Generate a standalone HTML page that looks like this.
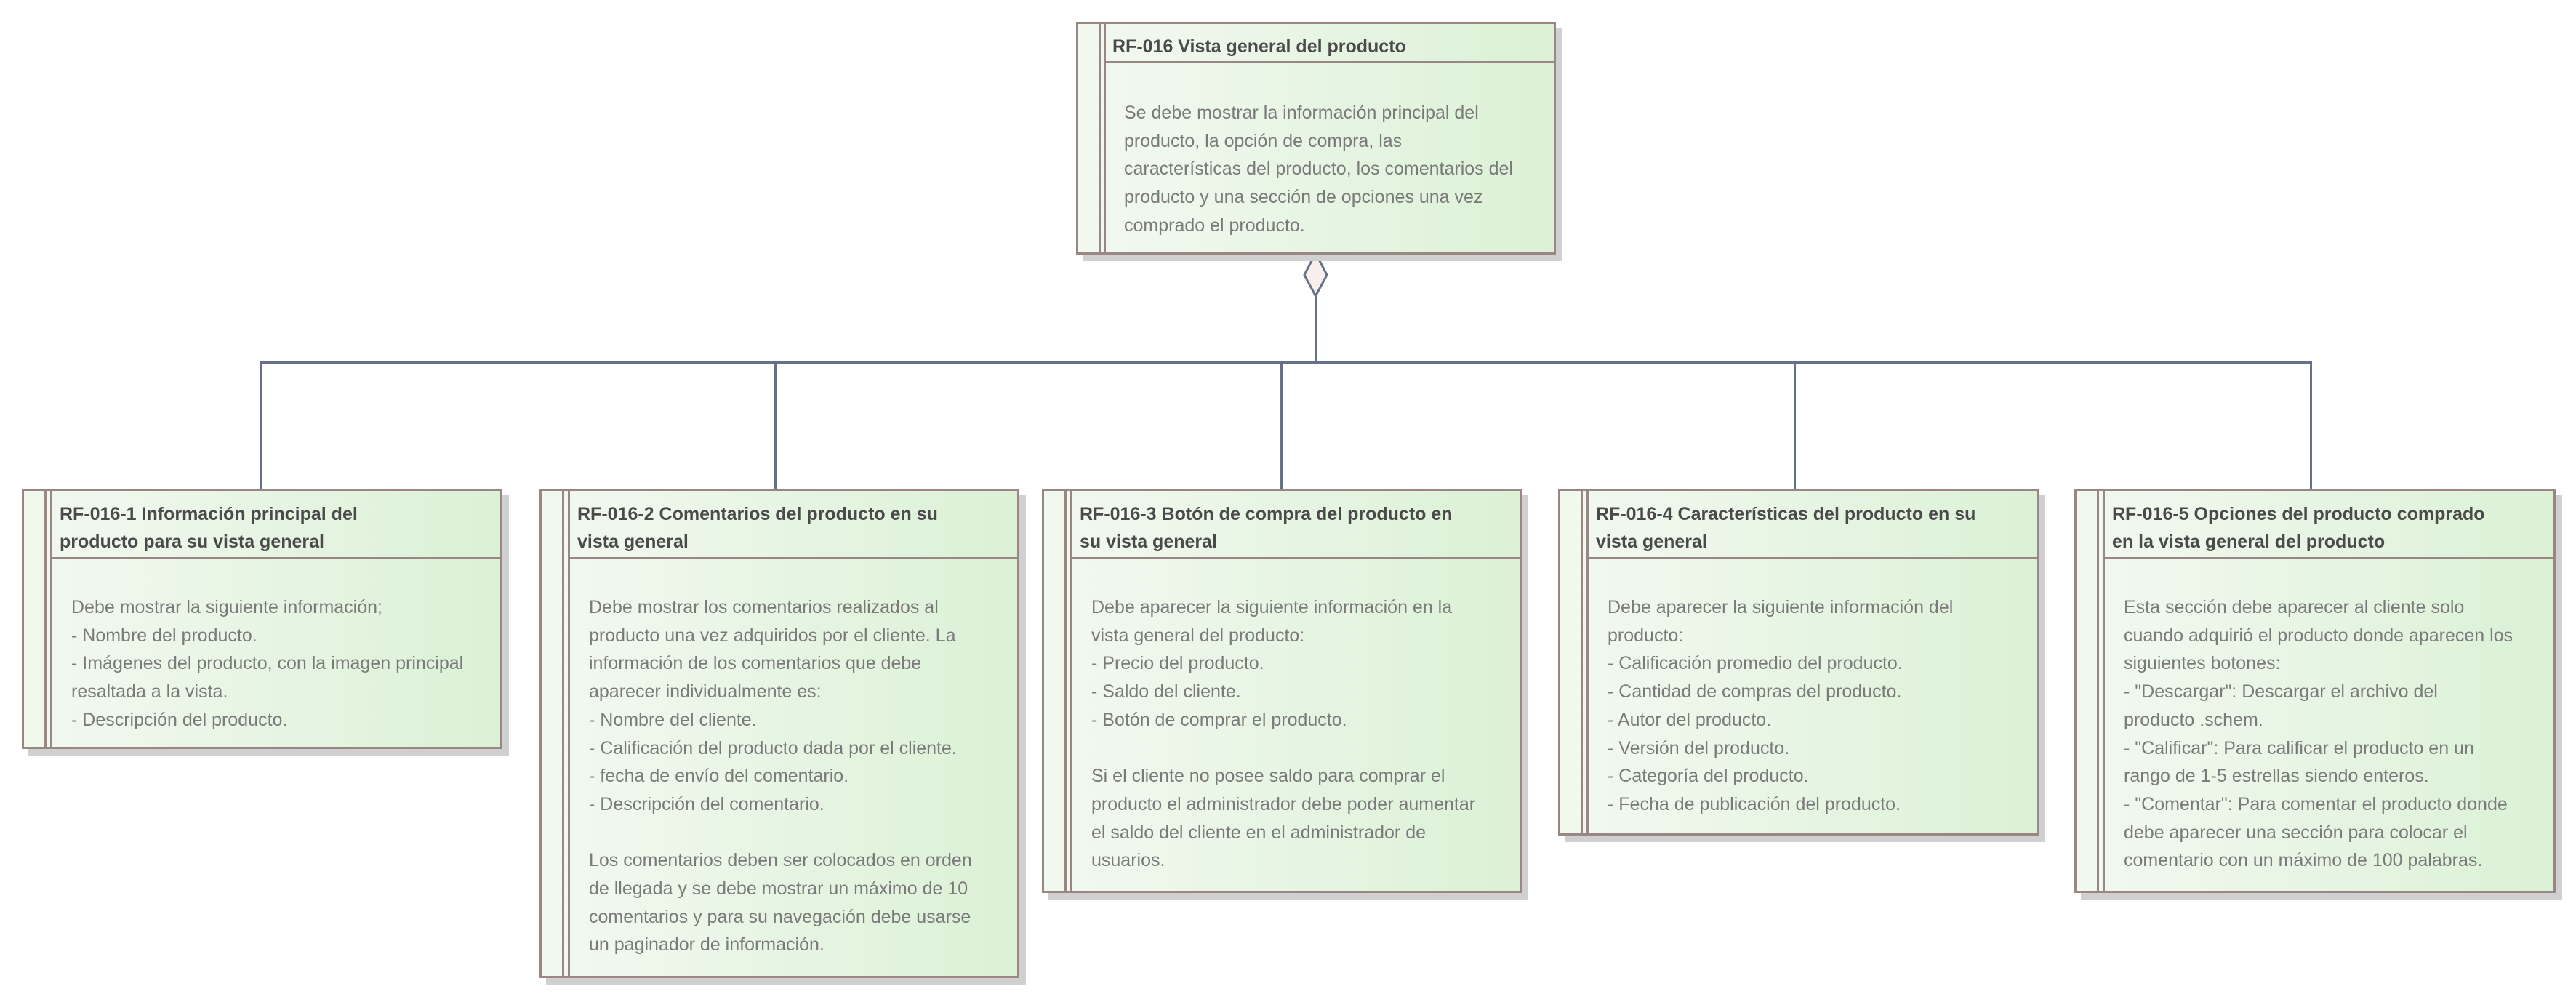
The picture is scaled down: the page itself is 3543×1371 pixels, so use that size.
<!DOCTYPE html>
<html><head><meta charset="utf-8"><style>
body{margin:0;width:3543px;height:1371px;background:#fff;position:relative;overflow:hidden;font-family:"Liberation Sans",sans-serif;}
.box{position:absolute;box-sizing:border-box;border:3px solid #9a8682;background:linear-gradient(to right,#f3f9f1,#dbf1d6);box-shadow:9px 9px 0 #d0d0d0;}
.s1,.s2{position:absolute;top:0;bottom:0;width:3px;background:#9a8682;}
.strip{position:absolute;left:0;top:0;bottom:0;width:30px;background:#f1f8ee;}
.div{position:absolute;right:0;height:3px;background:#9a8682;}
.t{position:absolute;font-weight:bold;font-size:25px;line-height:38px;color:#4a4a4a;white-space:nowrap;}
.b{position:absolute;font-size:25px;line-height:38.7px;color:#7a7a7a;white-space:nowrap;}
.ln{position:absolute;background:#66708a;}
</style></head><body>

<div class="ln" style="left:358px;top:497px;width:2822px;height:3px"></div>
<div class="ln" style="left:1808px;top:405px;width:3px;height:94px"></div>
<div class="ln" style="left:358px;top:497px;width:3px;height:176px"></div>
<div class="ln" style="left:1065px;top:497px;width:3px;height:176px"></div>
<div class="ln" style="left:1761px;top:497px;width:3px;height:176px"></div>
<div class="ln" style="left:2467px;top:497px;width:3px;height:176px"></div>
<div class="ln" style="left:3177px;top:497px;width:3px;height:176px"></div>
<svg style="position:absolute;left:1789px;top:346px" width="42" height="64"><polygon points="20.5,2 36,32 20.5,61 5,32" fill="#f8eeea" stroke="#66708a" stroke-width="3"/></svg>

<div class="box" style="left:1480px;top:30px;width:660px;height:320px">
<div class="strip"></div><div class="s1" style="left:28px"></div><div class="s2" style="left:35px"></div>
<div class="div" style="left:35px;top:51px"></div>
<div class="t" style="left:47px;top:12px">RF-016 Vista general del producto</div>
<div class="b" style="left:63px;top:103px">Se debe mostrar la información principal del<br>producto, la opción de compra, las<br>características del producto, los comentarios del<br>producto y una sección de opciones una vez<br>comprado el producto.</div>
</div>

<div class="box" style="left:30px;top:672px;width:661px;height:358px">
<div class="strip"></div><div class="s1" style="left:28px"></div><div class="s2" style="left:36px"></div>
<div class="div" style="left:36px;top:91px"></div>
<div class="t" style="left:49px;top:13px">RF-016-1 Información principal del<br>producto para su vista general</div>
<div class="b" style="left:65px;top:141px">Debe mostrar la siguiente información;<br>- Nombre del producto.<br>- Imágenes del producto, con la imagen principal<br>resaltada a la vista.<br>- Descripción del producto.</div>
</div>

<div class="box" style="left:742px;top:672px;width:660px;height:673px">
<div class="strip"></div><div class="s1" style="left:28px"></div><div class="s2" style="left:36px"></div>
<div class="div" style="left:36px;top:91px"></div>
<div class="t" style="left:49px;top:13px">RF-016-2 Comentarios del producto en su<br>vista general</div>
<div class="b" style="left:65px;top:141px">Debe mostrar los comentarios realizados al<br>producto una vez adquiridos por el cliente. La<br>información de los comentarios que debe<br>aparecer individualmente es:<br>- Nombre del cliente.<br>- Calificación del producto dada por el cliente.<br>- fecha de envío del comentario.<br>- Descripción del comentario.<br><br>Los comentarios deben ser colocados en orden<br>de llegada y se debe mostrar un máximo de 10<br>comentarios y para su navegación debe usarse<br>un paginador de información.</div>
</div>

<div class="box" style="left:1433px;top:672px;width:660px;height:556px">
<div class="strip"></div><div class="s1" style="left:28px"></div><div class="s2" style="left:36px"></div>
<div class="div" style="left:36px;top:91px"></div>
<div class="t" style="left:49px;top:13px">RF-016-3 Botón de compra del producto en<br>su vista general</div>
<div class="b" style="left:65px;top:141px">Debe aparecer la siguiente información en la<br>vista general del producto:<br>- Precio del producto.<br>- Saldo del cliente.<br>- Botón de comprar el producto.<br><br>Si el cliente no posee saldo para comprar el<br>producto el administrador debe poder aumentar<br>el saldo del cliente en el administrador de<br>usuarios.</div>
</div>

<div class="box" style="left:2143px;top:672px;width:661px;height:477px">
<div class="strip"></div><div class="s1" style="left:28px"></div><div class="s2" style="left:36px"></div>
<div class="div" style="left:36px;top:91px"></div>
<div class="t" style="left:49px;top:13px">RF-016-4 Características del producto en su<br>vista general</div>
<div class="b" style="left:65px;top:141px">Debe aparecer la siguiente información del<br>producto:<br>- Calificación promedio del producto.<br>- Cantidad de compras del producto.<br>- Autor del producto.<br>- Versión del producto.<br>- Categoría del producto.<br>- Fecha de publicación del producto.</div>
</div>

<div class="box" style="left:2853px;top:672px;width:662px;height:556px">
<div class="strip"></div><div class="s1" style="left:28px"></div><div class="s2" style="left:36px"></div>
<div class="div" style="left:36px;top:91px"></div>
<div class="t" style="left:49px;top:13px">RF-016-5 Opciones del producto comprado<br>en la vista general del producto</div>
<div class="b" style="left:65px;top:141px">Esta sección debe aparecer al cliente solo<br>cuando adquirió el producto donde aparecen los<br>siguientes botones:<br>- "Descargar": Descargar el archivo del<br>producto .schem.<br>- "Calificar": Para calificar el producto en un<br>rango de 1-5 estrellas siendo enteros.<br>- "Comentar": Para comentar el producto donde<br>debe aparecer una sección para colocar el<br>comentario con un máximo de 100 palabras.</div>
</div>

</body></html>
